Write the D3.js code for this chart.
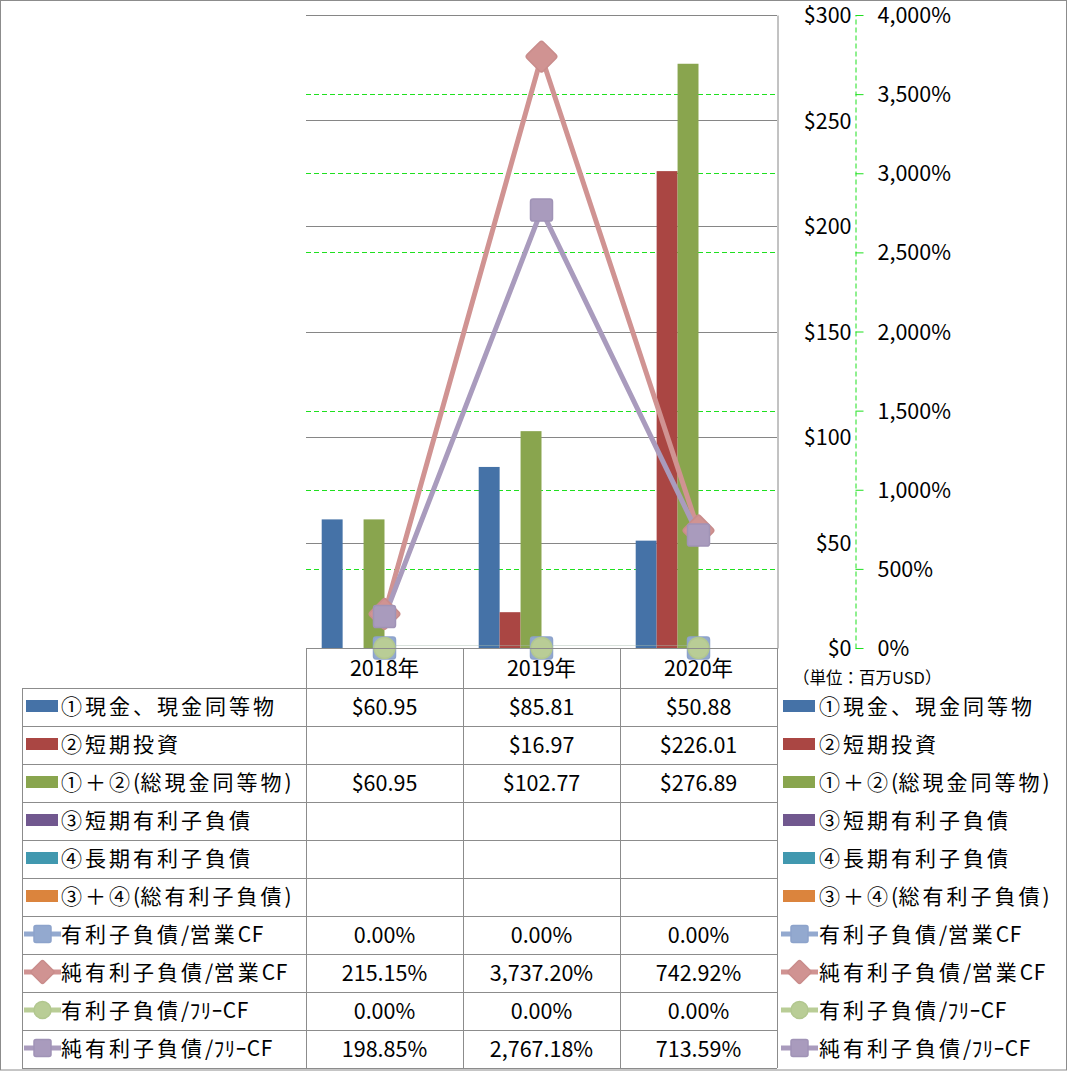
<!DOCTYPE html>
<html><head><meta charset="utf-8">
<script src="https://cdn.jsdelivr.net/npm/d3@7"></script>
<style>
body{margin:0;background:#fff}
text{font-family:"Noto Sans CJK JP","Noto Sans",sans-serif;fill:#000}
</style>
</head><body>
<svg id="c" width="1067" height="1071"></svg>
<script>
// ---------- data ----------
const years = ["2018年", "2019年", "2020年"];
const barSeries = ["①現金、現金同等物", "②短期投資", "①＋②(総現金同等物)", "③短期有利子負債", "④長期有利子負債", "③＋④(総有利子負債)"];
const cash = [60.95, 85.81, 50.88];
const shortInvest = [null, 16.97, 226.01];
const totalCash = [60.95, 102.77, 276.89];
const shortDebt = [null, null, null];
const longDebt = [null, null, null];
const totalDebt = [null, null, null];
const lineSeries = ["有利子負債/営業CF", "純有利子負債/営業CF", "有利子負債/ﾌﾘｰCF", "純有利子負債/ﾌﾘｰCF"];
const debtOpCF = [0, 0, 0];
const netDebtOpCF = [215.15, 3737.20, 742.92];
const debtFreeCF = [0, 0, 0];
const netDebtFreeCF = [198.85, 2767.18, 713.59];
const leftTicks = [0, 50, 100, 150, 200, 250, 300];
const rightTicks = [0, 500, 1000, 1500, 2000, 2500, 3000, 3500, 4000];
const unitLabel = "（単位：百万USD）";

// ---------- styles ----------
const barValues = [cash, shortInvest, totalCash, shortDebt, longDebt, totalDebt];
const barColors = ["#4572A7", "#AA4643", "#89A54E", "#71588F", "#4198AF", "#DB843D"];
const lineValues = [debtOpCF, netDebtOpCF, debtFreeCF, netDebtFreeCF];
const lineColors = ["#93A9CF", "#D09392", "#B9CD96", "#A99BBD"];
const lineStroke = ["#8DA3CB", "#C98C8B", "#B2C78F", "#A093B6"];
const markerType = ["square", "diamond", "circle", "square"];

const L = 306, R = 777, T = 15, B = 648;
const gridGray = "#868686", tableGray = "#8c8c8c", green = "#1fe01f";

const svg = d3.select("#c");
const x = d3.scaleBand().domain(years).range([L, R]);
const x1 = d3.scaleBand().domain(barSeries).range([0, x.bandwidth()]).paddingOuter(0.75);
const yL = d3.scaleLinear().domain([0, 300]).range([B, T]);
const yR = d3.scaleLinear().domain([0, 4000]).range([B, T]);

// outer border
svg.append("rect").attr("x", 0.5).attr("y", 0.5).attr("width", 1066).attr("height", 1069.5)
  .attr("fill", "none").attr("stroke", tableGray);

// green secondary gridlines
svg.append("g").selectAll("line").data(rightTicks.filter(d => d > 0 && d < 4000)).join("line")
  .attr("x1", L).attr("x2", R).attr("y1", d => Math.round(yR(d)) + 0.5).attr("y2", d => Math.round(yR(d)) + 0.5)
  .attr("stroke", green).attr("stroke-dasharray", "5,3");

// gray primary gridlines
svg.append("g").selectAll("line").data(leftTicks).join("line")
  .attr("x1", L).attr("x2", R).attr("y1", d => Math.round(yL(d)) + 0.5).attr("y2", d => Math.round(yL(d)) + 0.5)
  .attr("stroke", gridGray);

// bars
const gBars = svg.append("g");
barSeries.forEach((s, i) => {
  gBars.append("g").attr("fill", barColors[i]).selectAll("rect")
    .data(years.map((yv, j) => ({ yv, v: barValues[i][j] })).filter(d => d.v != null))
    .join("rect")
    .attr("x", d => x(d.yv) + x1(s))
    .attr("width", x1.bandwidth())
    .attr("y", d => yL(d.v))
    .attr("height", d => yL(0) - yL(d.v));
});

// primary axis (right side, labels right-aligned)
const axL = svg.append("g").attr("transform", `translate(${R + 0.5},0)`)
  .call(d3.axisRight(yL).tickValues(leftTicks).tickFormat(d => "$" + d).tickSize(0).tickSizeOuter(0));
axL.select(".domain").attr("stroke", gridGray);
axL.selectAll("text").attr("x", 74).attr("text-anchor", "end").attr("dy", "0.35em")
  .style("font-size", "21.5px").style("font-family", '"Noto Sans CJK JP",sans-serif');

// secondary axis
const axR = svg.append("g").attr("transform", "translate(855.5,0)")
  .call(d3.axisRight(yR).tickValues(rightTicks).tickFormat(d => d3.format(",")(d) + "%").tickSize(8).tickSizeOuter(0).tickPadding(14));
axR.select(".domain").attr("stroke", green).attr("stroke-dasharray", "5,3");
axR.selectAll(".tick line").attr("stroke", green);
axR.selectAll("text").attr("dy", "0.35em")
  .style("font-size", "21.5px").style("font-family", '"Noto Sans CJK JP",sans-serif');

// lines (clipped to plot area)
svg.append("clipPath").attr("id", "pc").append("rect").attr("x", L).attr("y", 0).attr("width", R - L).attr("height", B - 2.5);
const cx = yv => x(yv) + x.bandwidth() / 2;
const line = d3.line().x((d, j) => cx(years[j])).y(d => yR(d));
const gLines = svg.append("g");
lineSeries.forEach((s, i) => {
  gLines.append("path").attr("d", line(lineValues[i])).attr("fill", "none")
    .attr("stroke", lineColors[i]).attr("stroke-width", 5).attr("stroke-linejoin", "round")
    .attr("clip-path", "url(#pc)");
});

function marker(g, type, px, py, size, i) {
  if (type === "square") {
    g.append("rect").attr("x", px - size / 2).attr("y", py - size / 2).attr("width", size).attr("height", size)
      .attr("rx", size * 0.12).attr("fill", lineColors[i]).attr("stroke", lineStroke[i]).attr("stroke-width", 1.5);
  } else if (type === "diamond") {
    const s = size * 0.72;
    g.append("rect").attr("x", -s / 2).attr("y", -s / 2).attr("width", s).attr("height", s).attr("rx", s * 0.12)
      .attr("transform", `translate(${px},${py}) rotate(45)`)
      .attr("fill", lineColors[i]).attr("stroke", lineStroke[i]).attr("stroke-width", 1.5);
  } else {
    g.append("circle").attr("cx", px).attr("cy", py).attr("r", size / 2)
      .attr("fill", lineColors[i]).attr("stroke", lineStroke[i]).attr("stroke-width", 1.5);
  }
}
const markerSize = [22, 32, 21, 22];
lineSeries.forEach((s, i) => {
  const g = svg.append("g");
  lineValues[i].forEach((v, j) => marker(g, markerType[i], cx(years[j]), yR(v), markerSize[i], i));
});

// unit label
svg.append("text").attr("x", 793).attr("y", 678).attr("dy", "0.35em").style("font-size", "16.5px").text(unitLabel);

// ---------- data table ----------
const rowH = 38, rowTop = 688, labL = 22;
const allSeries = barSeries.concat(lineSeries);
const nRows = allSeries.length;
const tableBottom = rowTop + nRows * rowH;
const gT = svg.append("g").attr("stroke", tableGray).attr("shape-rendering", "crispEdges");
gT.append("line").attr("x1", L).attr("x2", R).attr("y1", B + 0.5).attr("y2", B + 0.5);
d3.range(nRows + 1).forEach(r => {
  const yy = rowTop + r * rowH + 0.5;
  gT.append("line").attr("x1", labL).attr("x2", R).attr("y1", yy).attr("y2", yy);
});
gT.append("line").attr("x1", labL + 0.5).attr("x2", labL + 0.5).attr("y1", rowTop).attr("y2", tableBottom);
years.concat([null]).forEach((yv, j) => {
  const xx = (yv ? x(yv) : R) + 0.5;
  gT.append("line").attr("x1", xx).attr("x2", xx).attr("y1", B).attr("y2", tableBottom);
});

// header
svg.append("g").selectAll("text").data(years).join("text")
  .attr("x", d => cx(d)).attr("y", (B + rowTop) / 2).attr("dy", "0.35em").attr("text-anchor", "middle")
  .style("font-size", "21.5px").text(d => d);

// label text: wide spacing for full-width characters, tight for Latin/half-width runs
function labelText(g, px, py, s) {
  const t = g.append("text").attr("x", px).attr("y", py).attr("dy", "0.35em").style("font-size", "21px");
  const runs = s.match(/[\u0020-\u007e\uff61-\uff9f]+|[^\u0020-\u007e\uff61-\uff9f]+/g);
  runs.forEach(run => {
    const narrow = /^[\u0020-\u007e\uff61-\uff9f]/.test(run);
    t.append("tspan").style("letter-spacing", narrow ? "0.5px" : "3px").text(run);
  });
}

const fmtMoney = d => "$" + d3.format(",.2f")(d);
const fmtPct = d => d3.format(",.2f")(d) + "%";
allSeries.forEach((s, r) => {
  const yc = rowTop + r * rowH + rowH / 2;
  const isBar = r < barSeries.length;
  const vals = isBar ? barValues[r] : lineValues[r - barSeries.length];
  years.forEach((yv, j) => {
    if (vals[j] == null) return;
    svg.append("text").attr("x", cx(yv)).attr("y", yc).attr("dy", "0.35em").attr("text-anchor", "middle")
      .style("font-size", "21.5px").text(isBar ? fmtMoney(vals[j]) : fmtPct(vals[j]));
  });
  // legend keys: in table and on right
  [{ kx: 26, tx: 61 }, { kx: 783, tx: 819 }].forEach(pos => {
    const g = svg.append("g");
    if (isBar) {
      g.append("rect").attr("x", pos.kx).attr("y", yc - 7).attr("width", 32).attr("height", 12).attr("fill", barColors[r]);
    } else {
      const i = r - barSeries.length;
      g.append("line").attr("x1", pos.kx - 2).attr("x2", pos.kx + 35).attr("y1", yc - 1).attr("y2", yc - 1)
        .attr("stroke", lineColors[i]).attr("stroke-width", 5);
      marker(g, markerType[i], pos.kx + 16.5, yc - 1, markerType[i] === "diamond" ? 24 : 17, i);
    }
    labelText(g, pos.tx, yc, s);
  });
});
</script>
</body></html>
